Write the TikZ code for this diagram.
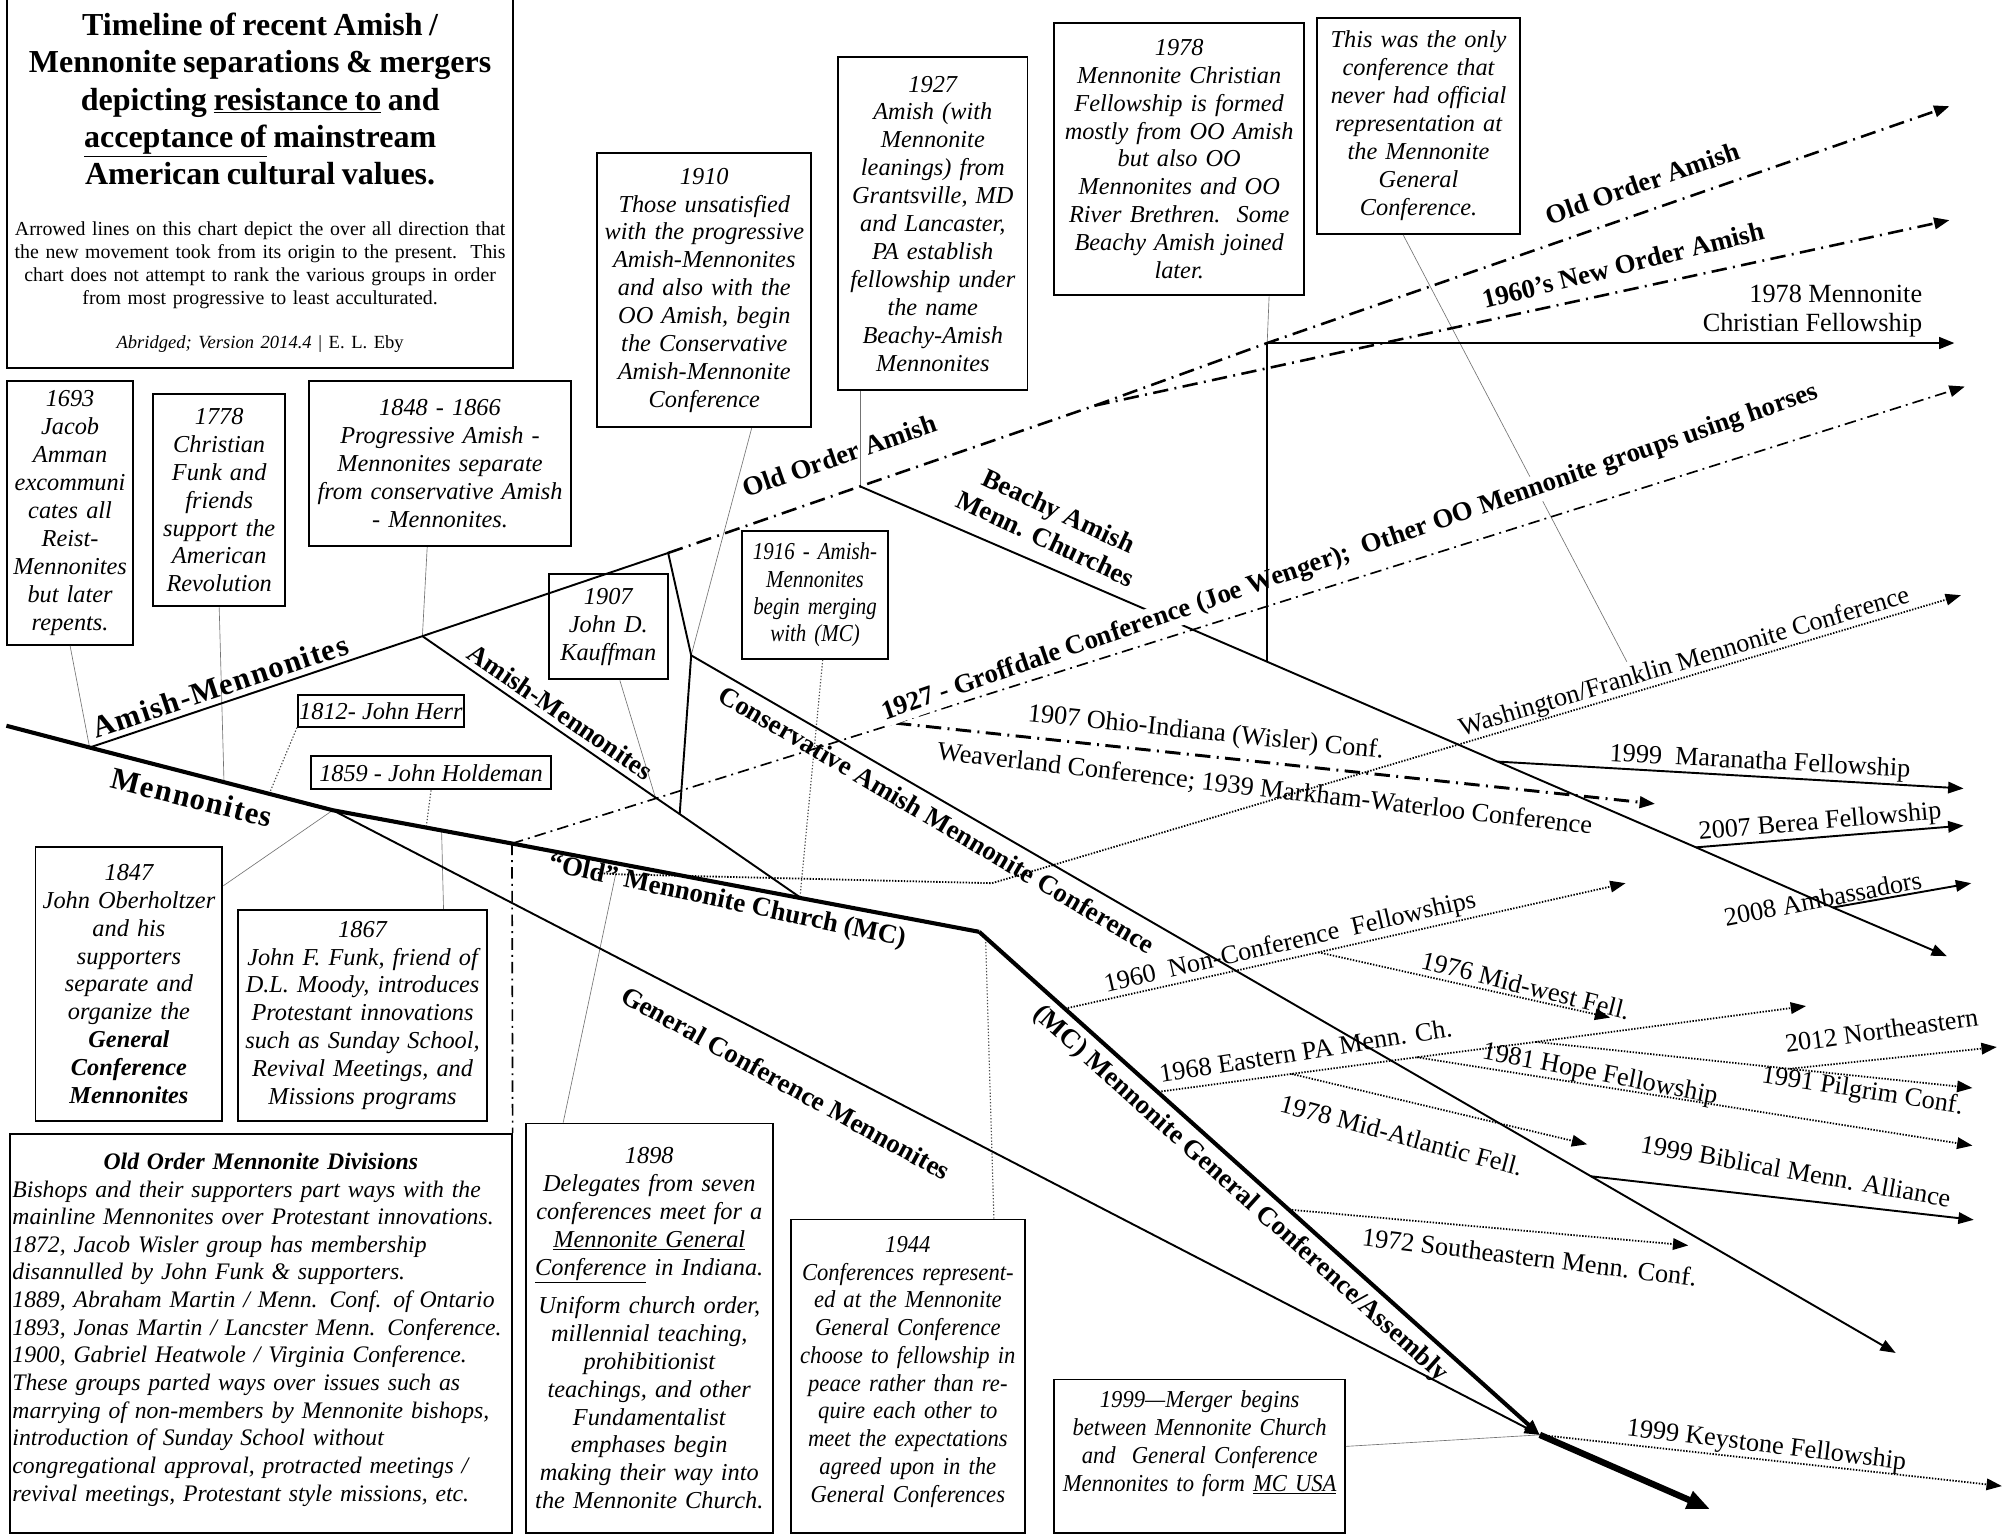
\documentclass[tikz,border=0pt]{standalone}
\usepackage{fontspec}
\setmainfont{Liberation Serif}
\newfontfamily\widebf{Liberation Serif}[LetterSpace=4]
\newfontfamily\condensed{Liberation Serif}[FakeStretch=0.93]
\newfontfamily\narrow{Liberation Serif}[FakeStretch=0.86]
\usetikzlibrary{arrows.meta}

\begin{document}
\begin{tikzpicture}[
    x=1pt, y=-1pt,
    box/.style={draw, line width=1.5pt, align=center, inner sep=3pt,
        anchor=north west, font=\fontsize{19}{21.8}\selectfont\itshape},
    trunk/.style={line width=3.2pt},
    branch/.style={line width=1.5pt},
    ptr/.style={black!55, line width=0.5pt},
    ptrdot/.style={black!70, line width=0.9pt, dash pattern=on 1pt off 1.5pt},
    oldorder/.style={line width=2pt, dash pattern=on 12pt off 5pt on 1.5pt off 5pt},
    horses/.style={line width=1.3pt, dash pattern=on 9pt off 4pt on 1.5pt off 4pt},
    fine/.style={line width=1.4pt, dash pattern=on 1.1pt off 1.2pt},
    lbl/.style={font=\fontsize{21}{24}\selectfont\bfseries, inner sep=1pt},
    grp/.style={font=\fontsize{20.5}{22}\selectfont, inner sep=1pt},
    >={Triangle[length=12pt,width=9pt]},
    ]

    \useasboundingbox[fill=white] (0,0) rectangle (1568,1199);

    %Mennonite trunk
    \coordinate (menStart) at (5,567);
    \coordinate (menAmish) at (70,584);
    \coordinate (men1778) at (175,611);
    \coordinate (men1812) at (210,621);
    \coordinate (menGC) at (260,633);
    \coordinate (men1859) at (333,646);
    \coordinate (men1867) at (345,649);
    \coordinate (menOO) at (400,659);
    \coordinate (menBend) at (765,728);
    \coordinate (mc1944) at (770,733);
    \coordinate (merge) at (1203,1121);
    \coordinate (mcusaEnd) at (1336,1179);
    \coordinate (keystoneEnd) at (1564,1161);

    %Amish
    \coordinate (amBranch) at (330,497);
    \coordinate (amTop) at (522,432);
    \coordinate (consV) at (540,512);
    \coordinate (am1907) at (512,623);
    \coordinate (amLow) at (531,636);
    \coordinate (amEnd) at (625,701);
    \coordinate (biblical) at (1243,919);
    \coordinate (biblicalEnd) at (1542,953);
    \coordinate (consEnd) at (1481,1057);

    %Old Order Amish
    \coordinate (beachy) at (672,380);
    \coordinate (newOrder) at (855,317);
    \coordinate (mcfTop) at (990,268);
    \coordinate (ooEnd) at (1523,83);
    \coordinate (newOrderEnd) at (1523,172);
    \coordinate (mcfEnd) at (1527,268);
    \coordinate (mcfFoot) at (990,517);
    \coordinate (maranatha) at (1170,595);
    \coordinate (maranathaEnd) at (1534,616);
    \coordinate (berea) at (1325,662);
    \coordinate (bereaEnd) at (1534,645);
    \coordinate (ambass) at (1432,709);
    \coordinate (ambassEnd) at (1540,690);
    \coordinate (beachyEnd) at (1521,747);

    %Old Order Mennonites
    \coordinate (wisler) at (700,565);
    \coordinate (wislerEnd) at (1293,628);
    \coordinate (groffEnd) at (1535,302);
    \coordinate (weaverStart) at (467,682);
    \coordinate (weaver1898) at (481,683);
    \coordinate (weaverBend) at (775,690);
    \coordinate (washNote) at (1271,517);
    \coordinate (washEnd) at (1532,465);

    %MC fellowships
    \coordinate (noncon) at (832,788);
    \coordinate (midwest) at (1030,744);
    \coordinate (nonconEnd) at (1270,690);
    \coordinate (midwestEnd) at (1258,795);
    \coordinate (eastPA) at (905,853);
    \coordinate (midAtl) at (1009,839);
    \coordinate (hope) at (1107,826);
    \coordinate (pilgrim) at (1200,814);
    \coordinate (northeast) at (1398,835);
    \coordinate (eastPAEnd) at (1411,786);
    \coordinate (midAtlEnd) at (1240,894);
    \coordinate (hopeEnd) at (1541,895);
    \coordinate (pilgrimEnd) at (1541,850);
    \coordinate (northeastEnd) at (1560,818);
    \coordinate (southeast) at (1007,945);
    \coordinate (southeastEnd) at (1319,973);

    %Boxes
    \node[box, font=\fontsize{15.5}{18}\selectfont, text width=389pt, minimum height=290pt] (title) at (5,-3)
        {{\fontsize{25}{29}\selectfont\bfseries Timeline of recent Amish /\\ Mennonite separations \& mergers\\
        depicting \underline{resistance to} and\\ \underline{acceptance of} mainstream\\ American cultural values.\par}
        \vspace{22pt}
        Arrowed lines on this chart depict the over all direction that\\ the new movement took from its origin to the present.\ \ This\\
        chart does not attempt to rank the various groups in order\\ from most progressive to least acculturated.\par
        \vspace{16pt}
        {\fontsize{14.5}{18}\selectfont\itshape Abridged; Version 2014.4} {\fontsize{14.5}{18}\selectfont | E. L. Eby}};
    \node[box, text width=92pt, minimum height=206pt] (n1693) at (5,297)
        {1693\\Jacob\\Amman\\excommuni\\cates all\\Reist-\\Mennonites\\but later\\repents.};
    \node[box, text width=97pt, minimum height=166pt] (n1778) at (119,307)
        {1778\\Christian\\Funk and\\friends\\support the\\American\\Revolution};
    \node[box, text width=198pt, minimum height=129pt] (n1848) at (241,297)
        {1848 - 1866\\Progressive Amish -\\Mennonites separate\\from conservative Amish\\- Mennonites.};
    \node[box, text width=161pt, minimum height=214pt] (n1910) at (466,119)
        {1910\\Those unsatisfied\\with the progressive\\Amish-Mennonites\\and also with the\\OO Amish, begin\\the Conservative\\Amish-Mennonite\\Conference};
    \node[box, text width=142pt, minimum height=260pt] (n1927) at (654,44)
        {1927\\Amish (with\\Mennonite\\leanings) from\\Grantsville, MD\\and Lancaster,\\PA establish\\fellowship under\\the name\\Beachy-Amish\\Mennonites};
    \node[box, text width=189pt, minimum height=213pt] (n1978) at (823,17)
        {1978\\Mennonite Christian\\Fellowship is formed\\mostly from OO Amish\\but also OO\\Mennonites and OO\\River Brethren.\ \ Some\\Beachy Amish joined\\later.};
    \node[box, text width=153pt, minimum height=169pt] (nOnly) at (1028,13)
        {This was the only\\conference that\\never had official\\representation at\\the Mennonite\\General\\Conference.};
    \node[box, text width=87pt, minimum height=82pt] (n1907) at (428,448)
        {1907\\John D.\\Kauffman};
    \node[box, text width=108pt, minimum height=100pt, font=\fontsize{19}{21.4}\selectfont\narrow\itshape] (n1916) at (579,414)
        {1916 - Amish-\\Mennonites\\begin merging\\with (MC)};
    \node[box, inner sep=1pt, minimum width=123pt, minimum height=25pt] (n1812) at (232,542)
        {1812- John Herr};
    \node[box, inner sep=1pt, minimum width=188pt, minimum height=26pt] (n1859) at (242,590)
        {1859 - John Holdeman};
    \node[box, text width=140pt, minimum height=214pt] (n1847) at (27,661)
        {1847\\John Oberholtzer\\and his\\supporters\\separate and\\organize the\\\textbf{General}\\\textbf{Conference}\\\textbf{Mennonites}};
    \node[box, text width=189pt, minimum height=165pt] (n1867) at (185,710)
        {1867\\John F. Funk, friend of\\D.L. Moody, introduces\\Protestant innovations\\such as Sunday School,\\Revival Meetings, and\\Missions programs};
    \node[box, align=left, inner sep=2pt, text width=388pt, minimum height=312pt,
        font=\fontsize{18.5}{21.6}\selectfont\itshape] (oomd) at (7,885)
        {{\centering\bfseries Old Order Mennonite Divisions\par}
        Bishops and their supporters part ways with the\\
        mainline Mennonites over Protestant innovations.\\
        1872, Jacob Wisler group has membership\\
        disannulled by John Funk \& supporters.\\
        1889, Abraham Martin / Menn. Conf. of Ontario\\
        1893, Jonas Martin / Lancster Menn. Conference.\\
        1900, Gabriel Heatwole / Virginia Conference.\\
        These groups parted ways over issues such as\\
        marrying of non-members by Mennonite bishops,\\
        introduction of Sunday School without\\
        congregational approval, protracted meetings /\\
        revival meetings, Protestant style missions, etc.\rule[-10pt]{0pt}{0pt}};
    \node[box, text width=187pt, minimum height=320pt] (n1898) at (410,877)
        {1898\\Delegates from seven\\conferences meet for a\\\underline{Mennonite General}\\\underline{Conference} in Indiana.\\[8pt]
        Uniform church order,\\millennial teaching,\\prohibitionist\\teachings, and other\\Fundamentalist\\emphases begin\\making their way into\\the Mennonite Church.};
    \node[box, text width=177pt, minimum height=245pt, font=\fontsize{19}{21.7}\selectfont\condensed\itshape] (n1944) at (617,952)
        {1944\\Conferences represent-\\ed at the Mennonite\\General Conference\\choose to fellowship in\\peace rather than re-\\quire each other to\\meet the expectations\\agreed upon in the\\General Conferences\rule[-11pt]{0pt}{0pt}};
    \node[box, inner sep=2pt, text width=223pt, minimum height=120pt, font=\fontsize{19}{21.8}\selectfont\condensed\itshape] (n1999) at (823,1077)
        {1999—Merger begins\\between Mennonite Church\\and\ \ General Conference\\Mennonites to form \underline{MC USA}\rule[-24pt]{0pt}{0pt}};

    %Pointers
    \draw[ptr] (n1693.south) -- (menAmish);
    \draw[ptr] (n1778.south) -- (men1778);
    \draw[ptr] ([xshift=-10pt]n1848.south) -- (amBranch);
    \draw[ptrdot] (n1812.south west) -- (men1812);
    \draw[ptrdot] (n1859.south) -- (men1859);
    \draw[ptr] (n1847.north east) ++(0,31) -- (menGC);
    \draw[ptr] (n1867.north east) ++(-35,0) -- (men1867);
    \draw[ptr] (n1898.north west) ++(30,0) -- (weaver1898);
    \draw[ptr] ([xshift=37pt]n1910.south) -- (consV);
    \draw[ptr] ([xshift=9pt]n1907.south) -- (am1907);
    \draw[ptrdot] ([xshift=6pt]n1916.south) -- (amEnd);
    \draw[ptr] (n1927.south west) ++(18,0) -- (beachy);
    \draw[ptr] (n1978.south east) ++(-28,0) -- (mcfTop);
    \draw[ptr] ([xshift=-12pt]nOnly.south) -- (washNote);
    \draw[ptrdot] (n1944.north east) ++(-25,0) -- (mc1944);
    \draw[ptr] (n1999.north east) ++(0,53) -- (merge);

    %Mennonites
    \draw[trunk] (menStart) -- (menAmish) -- (menGC) -- (menOO) -- (menBend);
    \draw[trunk, ->] (menBend) -- (merge);
    \draw[branch, ->] (menGC) -- (merge);
    \draw[line width=5pt, -{Triangle[length=18pt,width=14pt]}] (merge) -- (mcusaEnd);
    \draw[fine, ->] (merge) -- (keystoneEnd);

    %Amish
    \draw[branch] (menAmish) -- (amBranch) -- (amTop);
    \draw[branch] (amBranch) -- (am1907) -- (amLow) -- (amEnd);
    \draw[branch] (amTop) -- (consV) -- (amLow);
    \draw[branch, ->] (consV) -- (biblical) -- (consEnd);
    \draw[branch, ->] (biblical) -- (biblicalEnd);
    \draw[oldorder, ->] (amTop) -- (beachy) -- (newOrder) -- (mcfTop) -- (ooEnd);
    \draw[oldorder, ->] (newOrder) -- (newOrderEnd);
    \draw[branch, ->] (beachy) -- (mcfFoot) -- (maranatha) -- (berea) -- (ambass) -- (beachyEnd);
    \draw[branch, ->] (maranatha) -- (maranathaEnd);
    \draw[branch, ->] (berea) -- (bereaEnd);
    \draw[branch, ->] (ambass) -- (ambassEnd);
    \draw[line width=2.2pt, ->] (mcfTop) -- (mcfEnd);

    %Old Order Mennonites
    \draw[horses, ->] (menOO) -- (wisler) -- (groffEnd);
    \draw[horses] (menOO) -- (oomd.north east);
    \draw[oldorder, line width=2.3pt, ->] (wisler) -- (wislerEnd);
    \draw[fine, ->] (weaverStart) -- (weaver1898) -- (weaverBend) -- (washEnd);

    %MC fellowships
    \draw[fine, ->] (noncon) -- (midwest) -- (nonconEnd);
    \draw[fine, ->] (midwest) -- (midwestEnd);
    \draw[fine, ->] (eastPA) -- (midAtl) -- (hope) -- (pilgrim) -- (eastPAEnd);
    \draw[fine, ->] (midAtl) -- (midAtlEnd);
    \draw[fine, ->] (hope) -- (hopeEnd);
    \draw[fine, ->] (pilgrim) -- (northeast) -- (pilgrimEnd);
    \draw[fine, ->] (northeast) -- (northeastEnd);
    \draw[fine, ->] (southeast) -- (southeastEnd);

    %Group labels
    \node[lbl, font=\fontsize{24}{26}\selectfont\bfseries, rotate=18.5] (lAmMen) at (172,536) {\widebf Amish-Mennonites};
    \node[lbl, font=\fontsize{24}{26}\selectfont\bfseries, rotate=-14] (lMen) at (150,623) {\widebf Mennonites};
    \node[lbl, rotate=-34.5] (lAmMen2) at (438,556) {Amish-Mennonites};
    \node[lbl, rotate=19.2] (lOOA1) at (656,356) {Old Order Amish};
    \node[lbl, rotate=19.2] (lOOA2) at (1283,143) {Old Order Amish};
    \node[lbl, rotate=14] (lNOA) at (1268,207) {1960’s New Order Amish};
    \node[lbl, rotate=-25, align=center] (lBeachy) at (822,410) {Beachy Amish\\Menn. Churches};
    \node[lbl, rotate=-30.5] (lCons) at (732,640) {Conservative Amish Mennonite Conference};
    \node[lbl, rotate=19, fill=white] (lGroff) at (1055,432)
        {1927 - Groffdale Conference (Joe Wenger);\ \ Other OO Mennonite groups using horses};
    \node[lbl, rotate=-12] (lOldMC) at (568,705) {“Old” Mennonite Church (MC)};
    \node[lbl, rotate=-29] (lGCM) at (614,846) {General Conference Mennonites};
    \node[lbl, rotate=-42] (lMCGC) at (969,933) {(MC) Mennonite General Conference/Assembly};

    %Fellowship labels
    \node[grp, align=right] (lMCF) at (1416,243) {1978 Mennonite\\Christian Fellowship};
    \node[grp, rotate=-6] (lWisler) at (942,573) {1907 Ohio-Indiana (Wisler) Conf.};
    \node[grp, rotate=-6.5] (lWeaver) at (988,617) {Weaverland Conference; 1939 Markham-Waterloo Conference};
    \node[grp, rotate=16.6] (lWash) at (1316,518) {Washington/Franklin Mennonite Conference};
    \node[grp, rotate=-3] (lMaran) at (1375,596) {1999\ \ Maranatha Fellowship};
    \node[grp, rotate=5] (lBerea) at (1422,643) {2007 Berea Fellowship};
    \node[grp, rotate=11] (lAmbass) at (1424,702) {2008 Ambassadors};
    \node[grp, rotate=13] (lNoncon) at (1008,737) {1960\ \ Non-Conference\ \ Fellowships};
    \node[grp, rotate=-14] (lMidwest) at (1192,770) {1976 Mid-west Fell.};
    \node[grp, rotate=9] (lEastPA) at (1020,821) {1968 Eastern PA Menn. Ch.};
    \node[grp, rotate=8] (lNorth) at (1470,805) {2012 Northeastern};
    \node[grp, rotate=-11] (lHope) at (1250,840) {1981 Hope Fellowship};
    \node[grp, rotate=-9] (lPilgrim) at (1455,853) {1991 Pilgrim Conf.};
    \node[grp, rotate=-15] (lMidAtl) at (1095,887) {1978 Mid-Atlantic Fell.};
    \node[grp, rotate=-10] (lBiblical) at (1403,915) {1999 Biblical Menn. Alliance};
    \node[grp, rotate=-7] (lSouth) at (1195,982) {1972 Southeastern Menn. Conf.};
    \node[grp, rotate=-7] (lKey) at (1380,1130) {1999 Keystone Fellowship};

    %MCF split drawn over the Groffdale label
    \draw[branch] (mcfFoot) -- (mcfTop);

\end{tikzpicture}
\end{document}
